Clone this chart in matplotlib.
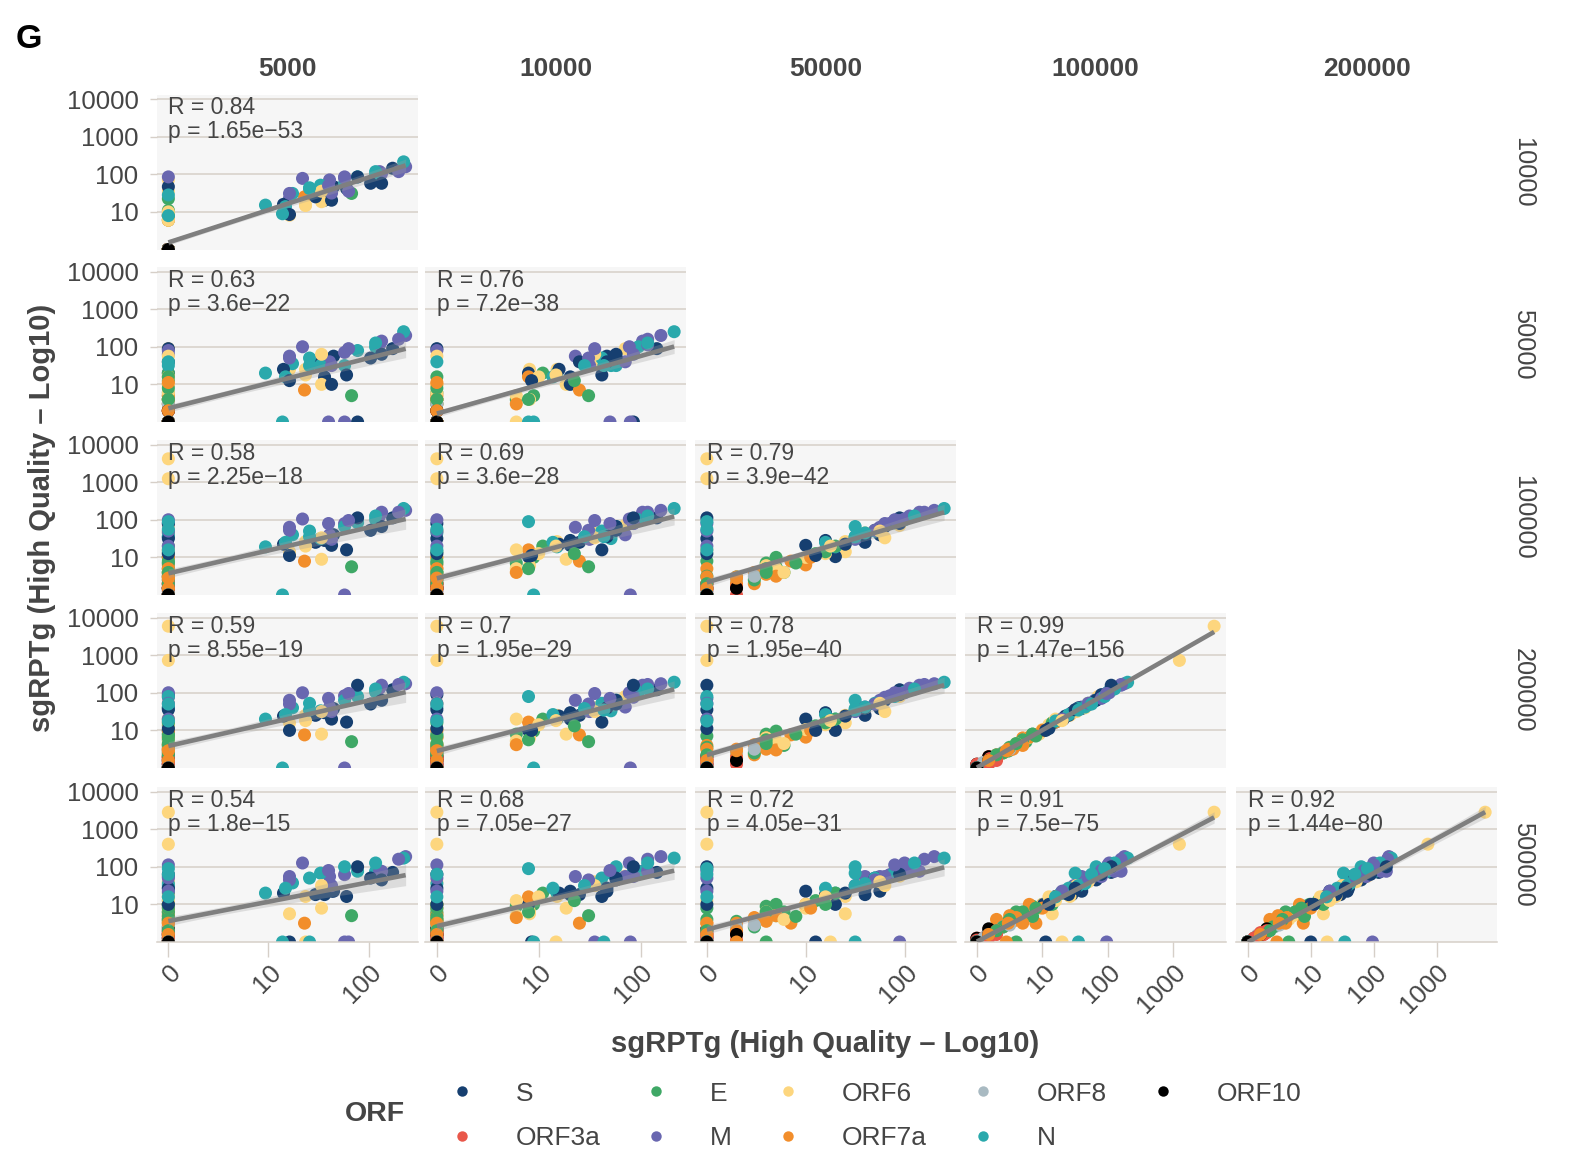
import numpy as np
import matplotlib
matplotlib.use("Agg")
import matplotlib.pyplot as plt
import matplotlib.transforms as mtransforms
from matplotlib.lines import Line2D

plt.rcParams["font.family"] = ["Liberation Sans", "DejaVu Sans"]

orfs = ["S", "ORF3a", "E", "M", "ORF6", "ORF7a", "ORF8", "N", "ORF10"]
orf_colors = ["#163f70", "#e9574a", "#3fa866", "#6967b0", "#fdd67e",
              "#f28e2b", "#a9bac2", "#2aa9ac", "#000000"]

# sgRPTg, log10 scale; one row per sample, columns follow `orfs`
d5k = [
    [2.24, 0, 0, 2.37, 0, 0, 0, 2.35, 0],
    [1.65, 0, 0, 2.13, 1.21, 0, 0, 2.07, 0],
    [1.56, 0, 0, 1.76, 1.53, 0, 0, 1.89, 0],
    [1.63, 0, 0, 1.21, 1.37, 1.36, 0, 1.24, 0],
    [1.47, 0, 1.83, 2.11, 0, 0, 0, 1.76, 0],
    [1.78, 0, 0, 1.61, 0, 0, 0, 1.52, 0],
    [2.02, 0, 0, 1.34, 0, 0, 0, 1.41, 0],
    [0, 0, 0, 1.63, 0, 0, 0, 0.97, 0],
    [2.13, 0, 0, 2.3, 1.53, 0, 0, 2.07, 0],
    [1.15, 0, 0, 1.21, 0, 0, 0, 1.17, 0],
    [0, 0, 0, 0, 0, 0, 0, 0, 0],
    [0, 0, 0, 0, 0, 0, 0, 0, 0],
    [1.89, 0, 0, 1.6, 0, 0, 0, 0, 0],
    [0, 0, 0, 0, 0, 0, 0, 0, 0],
    [0, 0, 0, 0, 0, 0, 0, 0, 0],
    [1.21, 0, 0, 1.8, 1.37, 0, 0, 1.41, 0],
    [0, 0, 0, 1.76, 0, 0, 0, 1.14, 0],
]
d10k = [
    [2.16, 0, 0.78, 2.2, 1.85, 0, 0, 2.33, 0],
    [1.67, 0, 0, 2.02, 0.91, 0, 0, 1.98, 0],
    [1.31, 0, 0.95, 1.93, 1.27, 0, 0, 1.93, 0],
    [1.31, 0, 0, 1.36, 1.18, 1.4, 0, 1.49, 0],
    [1.4, 0, 1.49, 2.07, 1.55, 0, 0, 1.76, 0],
    [1.62, 0, 1.35, 1.85, 0.91, 0, 0, 1.71, 0],
    [1.76, 0, 0, 1.89, 0, 0, 0, 1.62, 0],
    [0.9, 0, 0, 1.5, 0.78, 0, 0, 1.18, 0],
    [1.76, 0, 1.04, 2.07, 1.55, 0.9, 0, 2.07, 0],
    [1.2, 0, 0.9, 1.49, 0, 0.78, 0, 1.14, 0],
    [1.67, 0, 0, 1.93, 1.0, 0, 0, 1.45, 0],
    [0, 0, 0, 0, 0, 0, 0, 0, 0],
    [1.93, 0, 0, 1.7, 0.78, 0, 0, 0.9, 0],
    [0, 0, 0, 0, 0, 0, 0, 0, 0],
    [0, 0, 0, 0, 0, 0, 0, 0, 0],
    [0.93, 0, 0, 1.55, 1.17, 0, 0, 1.64, 0],
    [0, 0, 0, 1.9, 0, 0, 0, 0.95, 0],
]
d50k = [
    [1.95, 0.3, 0.6, 2.3, 1.95, 0.6, 0, 2.4, 0],
    [1.75, 0, 0.3, 2.15, 1.4, 0.48, 0, 2.0, 0],
    [1.2, 0, 0.7, 1.85, 1.0, 0.3, 0, 1.9, 0],
    [1.0, 0, 0.6, 1.75, 1.4, 0.85, 0, 1.55, 0],
    [1.6, 0, 0.7, 2.05, 1.6, 0.3, 0, 1.5, 0],
    [1.25, 0.3, 1.1, 1.6, 0.6, 1.0, 0.3, 1.5, 0],
    [1.7, 0.3, 0.48, 2.0, 1.0, 0.3, 0, 1.7, 0],
    [1.3, 0, 0.78, 1.5, 0.7, 0.7, 0, 1.3, 0],
    [1.8, 0, 1.3, 2.2, 1.8, 1.2, 0, 2.1, 0],
    [1.4, 0, 0.6, 1.7, 0.78, 0.48, 0, 1.2, 0],
    [1.6, 0, 0.9, 1.8, 1.2, 0.6, 0, 1.5, 0],
    [1.95, 0.3, 1.2, 1.9, 1.75, 1.05, 0.48, 1.6, 0.3],
    [0, 0, 0, 0, 0, 0, 0, 0, 0],
    [0, 0, 0, 0, 0, 0, 0, 0, 0],
    [0, 0, 0, 0, 0, 0, 0, 0, 0],
    [1.1, 0, 0.6, 1.95, 1.25, 0.3, 0, 1.5, 0],
    [0, 0, 0, 0, 0, 0, 0, 0, 0],
]
d100k = [
    [2.05, 0.18, 0.85, 2.25, 1.85, 0.7, 0.18, 2.3, 0],
    [1.6, 0, 0.48, 2.2, 1.15, 0.3, 0.3, 2.0, 0],
    [1.45, 0.18, 1.0, 1.9, 0.95, 0.48, 0, 1.92, 0],
    [1.32, 0, 0.6, 1.8, 1.42, 0.9, 0.15, 1.6, 0],
    [1.4, 0.18, 0.75, 2.1, 1.65, 0.4, 0, 1.82, 0],
    [1.2, 0, 1.1, 1.6, 0.78, 0.8, 0.4, 1.5, 0],
    [1.72, 0.25, 0.4, 2.02, 1.0, 0.3, 0.18, 1.7, 0],
    [1.02, 0, 0.6, 1.48, 0.7, 0.5, 0, 1.28, 0.18],
    [1.82, 0.1, 1.3, 2.2, 1.52, 1.2, 0.18, 2.1, 0],
    [1.35, 0.3, 0.7, 1.72, 0.6, 0.6, 0.1, 1.4, 0],
    [1.55, 0.3, 0.85, 1.9, 1.1, 0.55, 0, 1.55, 0],
    [1.9, 0.2, 1.15, 2.0, 1.7, 1.0, 0.5, 1.65, 0.18],
    [2.05, 0.3, 0.9, 1.9, 1.2, 0.7, 0, 1.95, 0],
    [1.5, 0.18, 0.5, 1.7, 3.62, 0.48, 0, 1.75, 0],
    [1.1, 0, 0.3, 1.3, 3.09, 0.18, 0, 1.2, 0],
    [1.05, 0, 0.6, 1.98, 1.3, 0.45, 0, 1.55, 0],
    [0, 0, 0, 0, 0, 0, 0, 0, 0],
]
d200k = [
    [2.08, 0.3, 0.9, 2.24, 1.9, 0.8, 0.2, 2.28, 0],
    [1.58, 0.1, 0.45, 2.2, 1.2, 0.35, 0.32, 2.02, 0],
    [1.47, 0.2, 0.98, 1.92, 0.9, 0.5, 0, 1.9, 0],
    [1.3, 0, 0.62, 1.8, 1.4, 0.88, 0.15, 1.6, 0],
    [1.4, 0.15, 0.7, 2.12, 1.6, 0.4, 0, 1.8, 0.1],
    [1.22, 0.1, 1.12, 1.62, 0.8, 0.82, 0.42, 1.52, 0],
    [1.7, 0.25, 0.4, 2.0, 1.02, 0.28, 0.1, 1.72, 0],
    [1.0, 0, 0.6, 1.5, 0.72, 0.48, 0, 1.3, 0.3],
    [1.8, 0.1, 1.3, 2.22, 1.5, 1.22, 0.2, 2.1, 0],
    [1.38, 0.3, 0.75, 1.7, 0.65, 0.62, 0.15, 1.42, 0],
    [1.6, 0.25, 0.9, 1.88, 1.15, 0.5, 0, 1.58, 0],
    [1.95, 0.25, 1.2, 2.0, 1.72, 1.0, 0.5, 1.62, 0.2],
    [2.2, 0.2, 0.85, 1.85, 1.3, 0.6, 0, 1.9, 0],
    [1.55, 0.1, 0.55, 1.72, 3.77, 0.5, 0, 1.7, 0],
    [1.05, 0, 0.35, 1.3, 2.86, 0.2, 0, 1.25, 0],
    [1.0, 0, 0.65, 1.98, 1.26, 0.46, 0, 1.54, 0],
    [0, 0, 0, 0, 0, 0, 0, 0, 0],
]
d500k = [
    [1.85, 0.25, 0.95, 2.27, 1.75, 0.75, 0.15, 2.23, 0],
    [1.35, 0.1, 0.55, 1.88, 0.75, 0.6, 0.3, 1.88, 0],
    [1.26, 0.2, 1.0, 1.79, 0.9, 0.5, 0, 1.88, 0],
    [1.35, 0, 0.6, 1.74, 1.21, 0.5, 0.18, 1.57, 0],
    [1.26, 0.15, 0.7, 1.88, 1.6, 0.4, 0, 2.0, 0.1],
    [1.21, 0.05, 1.1, 1.74, 0.8, 1.0, 0.4, 1.83, 0],
    [1.7, 0.25, 0.4, 2.1, 1.0, 0.3, 0.1, 1.7, 0],
    [1.0, 0, 0.8, 1.5, 0.7, 0.7, 0, 1.3, 0.35],
    [1.65, 0.1, 1.3, 2.2, 1.5, 1.2, 0.2, 2.1, 0],
    [1.3, 0.3, 0.8, 1.65, 0.6, 0.65, 0.1, 1.43, 0],
    [1.43, 0.2, 0.68, 1.74, 1.2, 0.55, 0, 1.5, 0],
    [1.8, 0.2, 1.0, 2.05, 1.6, 0.9, 0.45, 1.55, 0.2],
    [2.0, 0.25, 0.9, 1.9, 1.1, 0.5, 0, 1.95, 0],
    [1.43, 0.1, 0.6, 1.7, 3.45, 0.5, 0, 1.8, 0],
    [1.0, 0, 0.3, 1.35, 2.6, 0.2, 0, 1.2, 0],
    [0, 0, 0, 0, 0, 0, 0, 0, 0],
    [0, 0, 0, 0, 0, 0, 0, 0, 0],
]

col_depths = ["5000", "10000", "50000", "100000", "200000"]
row_depths = ["10000", "50000", "100000", "200000", "500000"]

r_labels = [
    ["0.84"],
    ["0.63", "0.76"],
    ["0.58", "0.69", "0.79"],
    ["0.59", "0.7", "0.78", "0.99"],
    ["0.54", "0.68", "0.72", "0.91", "0.92"],
]
p_labels = [
    ["1.65e\u221253"],
    ["3.6e\u221222", "7.2e\u221238"],
    ["2.25e\u221218", "3.6e\u221228", "3.9e\u221242"],
    ["8.55e\u221219", "1.95e\u221229", "1.95e\u221240", "1.47e\u2212156"],
    ["1.8e\u221215", "7.05e\u221227", "4.05e\u221231", "7.5e\u221275", "1.44e\u221280"],
]

depth_data = {
    "5000": d5k, "10000": d10k, "50000": d50k,
    "100000": d100k, "200000": d200k, "500000": d500k,
}

n_samples = len(d5k)
point_colors = np.tile(orf_colors, n_samples)

text_col = "#454545"
grid_col = "#d6cfc8"
W, H = 1581, 1152
fig = plt.figure(figsize=(W / 100, H / 100), dpi=100)

col_left = [156.5, 425, 695, 965, 1236]
row_top = [94.5, 267, 440, 613, 787]
pw, ph = 261, 155

for i, rd in enumerate(row_depths):
    y = np.array(depth_data[rd], dtype=float).ravel()
    for j, cd in enumerate(col_depths[: i + 1]):
        x = np.array(depth_data[cd], dtype=float).ravel()
        ax = fig.add_axes([col_left[j] / W, 1 - (row_top[i] + ph) / H, pw / W, ph / H])
        ax.set_facecolor("#f6f6f6")

        ax.scatter(x, y, s=88, c=point_colors, linewidths=0, zorder=2, clip_on=True)

        # linear fit with 95% band, like geom_smooth(method = "lm")
        n = len(x)
        slope, icpt = np.polyfit(x, y, 1)
        resid = y - (icpt + slope * x)
        s_err = np.sqrt(np.sum(resid ** 2) / (n - 2))
        xm = x.mean()
        sxx = np.sum((x - xm) ** 2)
        xs = np.linspace(x.min(), x.max(), 100)
        fit = icpt + slope * xs
        se = s_err * np.sqrt(1 / n + (xs - xm) ** 2 / sxx)
        ax.fill_between(xs, fit - 1.97 * se, fit + 1.97 * se, color="#a0a0a0", alpha=0.3,
                        linewidth=0, zorder=3)
        ax.plot(xs, fit, color="#7f7f7f", lw=3.3, zorder=4, solid_capstyle="butt")

        rng = x.max() - x.min()
        lo, hi = x.min() - 0.05 * rng, x.max() + 0.05 * rng
        ax.set_xlim(lo, hi)
        ax.set_ylim(0, 4.12)

        ax.set_yticks([1, 2, 3, 4])
        ax.yaxis.grid(True, color=grid_col, lw=1.1)
        ax.set_axisbelow(True)
        for sp in ax.spines.values():
            sp.set_visible(False)

        if j == 0:
            ax.set_yticklabels(["10", "100", "1000", "10000"], fontsize=18.5, color=text_col)
            ax.tick_params(axis="y", length=5, width=1, color=grid_col, pad=8)
        else:
            ax.tick_params(axis="y", length=0, labelleft=False)

        if i == len(row_depths) - 1:
            xt = list(range(0, int(np.floor(hi)) + 1))
            ax.set_xticks(xt)
            ax.set_xticklabels(["0" if k == 0 else str(10 ** k) for k in xt],
                               fontsize=18.5, color=text_col, rotation=45,
                               ha="right", va="top", rotation_mode="anchor")
            ax.tick_params(axis="x", length=11, width=1, color=grid_col, pad=2)
            ax.spines["bottom"].set_visible(True)
            ax.spines["bottom"].set_color(grid_col)
            ax.spines["bottom"].set_linewidth(1.1)
        else:
            ax.tick_params(axis="x", length=0, labelbottom=False)

        trans = mtransforms.blended_transform_factory(ax.transData, ax.transAxes)
        ax.text(0, 0.915, "R = " + r_labels[i][j], transform=trans, fontsize=16.5,
                color=text_col, ha="left", va="center", zorder=5)
        ax.text(0, 0.76, "p = " + p_labels[i][j], transform=trans, fontsize=16.5,
                color=text_col, ha="left", va="center", zorder=5)

# facet strips
for j, cd in enumerate(col_depths):
    fig.text((col_left[j] + pw / 2) / W, 1 - 68.5 / H, cd, fontsize=19, fontweight="bold",
             color=text_col, ha="center", va="center")
for i, rd in enumerate(row_depths):
    fig.text(1523 / W, 1 - (row_top[i] + ph / 2) / H, rd, fontsize=18.3, color=text_col,
             ha="center", va="center", rotation=270)

fig.text(825 / W, 1 - 1043.5 / H, "sgRPTg (High Quality \u2013 Log10)", fontsize=21,
         fontweight="bold", color=text_col, ha="center", va="center")
fig.text(42.5 / W, 1 - 518 / H, "sgRPTg (High Quality \u2013 Log10)", fontsize=21,
         fontweight="bold", color=text_col, ha="center", va="center", rotation=90)
fig.text(16 / W, 1 - 39 / H, "G", fontsize=24.5, fontweight="bold", color="black",
         ha="left", va="center")

# legend
handles = [Line2D([], [], marker="o", ls="none", markersize=7.5, markeredgewidth=0,
                  color=c) for c in orf_colors]
fig.legend(handles, orfs, loc="center left", bbox_to_anchor=(455 / W, 1 - 1116 / H),
           ncol=5, frameon=False, fontsize=19, handlelength=0.5, handletextpad=1.8,
           columnspacing=1.86, labelspacing=0.78, borderpad=0, borderaxespad=0,
           labelcolor=text_col)
fig.text(375 / W, 1 - 1114 / H, "ORF", fontsize=20.5, fontweight="bold", color=text_col,
         ha="center", va="center")

fig.savefig("out.png", dpi=100)
